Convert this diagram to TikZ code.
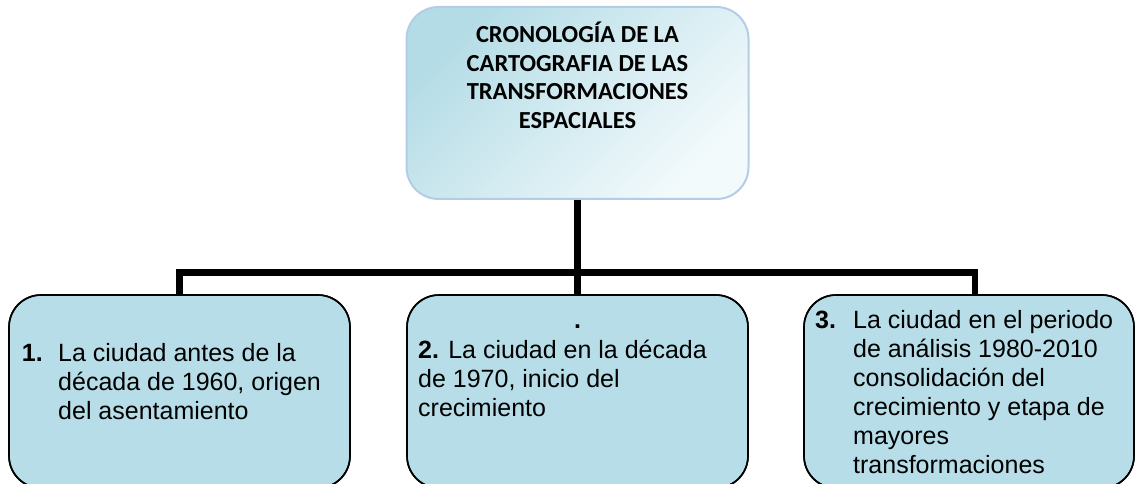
\documentclass[tikz,border=0pt]{standalone}
\usepackage{fontspec}
\newfontfamily\arialf{Liberation Sans}
\newfontfamily\calib{Carlito}
\definecolor{boxfill}{HTML}{B7DEE8}
\definecolor{titletop}{HTML}{B4DCE6}
\definecolor{titlebot}{HTML}{F3FAFC}
\definecolor{titleborder}{HTML}{B3CDE8}
\tikzset{
  conn/.style={line width=6.4pt, line join=miter, draw=black},
  itembox/.style={draw=black, line width=1.6pt, fill=boxfill, rounded corners=32pt,
    minimum height=193pt, inner sep=0pt},
  titlebox/.style={draw=titleborder, line width=2pt, rounded corners=32pt,
    top color=titletop, bottom color=titlebot, shading angle=45,
    minimum width=342pt, minimum height=192pt, inner sep=0pt},
  itemtext/.style={anchor=base west, inner sep=0pt, font=\arialf\fontsize{25}{29}\selectfont},
  numtext/.style={anchor=base west, inner sep=0pt, font=\arialf\bfseries\fontsize{25}{29}\selectfont},
  titletext/.style={anchor=base, inner sep=0pt, font=\calib\bfseries\fontsize{24.5}{28.5}\selectfont}
}
\begin{document}
\begin{tikzpicture}[x=1pt,y=-1pt]
\useasboundingbox (0,0) rectangle (1136,484);
\clip (0,0) rectangle (1136,484);
% boxes
\node[titlebox] (title) at (577.5,103) {};
\node[itembox, minimum width=341pt] (b1) at (179.5,391.5) {};
\node[itembox, minimum width=341pt] (b2) at (577.5,391.5) {};
\node[itembox, minimum width=330pt] (b3) at (969,391.5) {};
% connectors
\coordinate (bar) at (0,272.5);
\coordinate (b3stem) at ([xshift=6pt]b3.north);
\draw[conn] (title.south) -- (b2.north);
\draw[conn] (b1.north) -- (b1.north |- bar) -- (b3stem |- bar) -- (b3stem);
% redraw box borders on top
\node[itembox, minimum width=341pt, fill=none] at (b1) {};
\node[itembox, minimum width=341pt, fill=none] at (b2) {};
\node[itembox, minimum width=330pt, fill=none] at (b3) {};
% texts
\node[titletext] (tt) at (577.5,43) {\parbox[t]{330pt}{\centering CRONOLOGÍA DE LA\\CARTOGRAFIA DE LAS\\TRANSFORMACIONES\\ESPACIALES}};
\node[numtext] (n1) at (21.7,361) {1.};
\node[itemtext] (t1) at (58,361) {\parbox[t]{290pt}{La ciudad antes de la\\década de 1960, origen\\del asentamiento}};
\node[numtext, anchor=base] (dot) at (577.5,328) {.};
\node[itemtext] (t2) at (418,358) {\parbox[t]{320pt}{\textbf{2.} La ciudad en la década\\de 1970, inicio del\\crecimiento}};
\node[numtext] (n3) at (815,328) {3.};
\node[itemtext] (t3) at (853,328) {\parbox[t]{280pt}{La ciudad en el periodo\\de análisis 1980-2010\\consolidación del\\crecimiento y etapa de\\mayores\\transformaciones}};
\end{tikzpicture}
\end{document}
